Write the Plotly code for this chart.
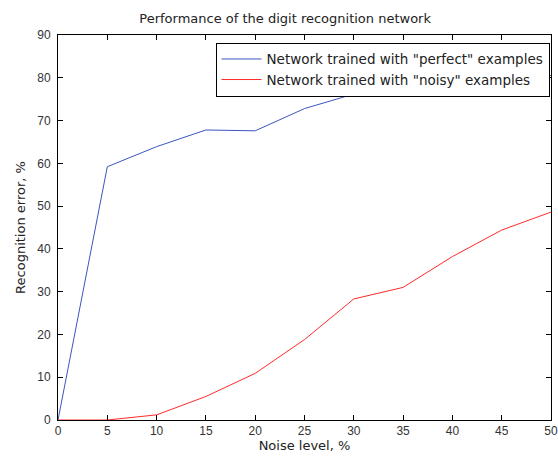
import plotly.graph_objects as go

noise = [0, 5, 10, 15, 20, 25, 30, 35, 40, 45, 50]
err_perfect = [0, 59.2, 63.9, 67.8, 67.6, 72.8, 76.2, 78.3, 76.8, 76.5, 80.6]
err_noisy = [0, 0, 1.2, 5.5, 10.9, 18.8, 28.3, 31.0, 38.2, 44.4, 48.6]

TXT = "DejaVu Sans, sans-serif"

fig = go.Figure()
fig.add_trace(go.Scatter(x=noise, y=err_perfect, mode="lines",
                         name='Network trained with "perfect" examples',
                         line=dict(color="#3a55c0", width=1)))
fig.add_trace(go.Scatter(x=noise, y=err_noisy, mode="lines",
                         name='Network trained with "noisy" examples',
                         line=dict(color="#ff2a2a", width=1)))

axis_common = dict(showline=True, linecolor="black", linewidth=1, mirror="ticks",
                   ticks="inside", ticklen=5, tickcolor="black", showgrid=False,
                   zeroline=False, automargin=False,
                   tickfont=dict(family="Liberation Sans, Arial, sans-serif", size=12, color="#333333"))

fig.update_layout(
    width=558, height=459,
    margin=dict(l=58, r=7, t=35, b=39),
    paper_bgcolor="white", plot_bgcolor="white",
    font=dict(family=TXT, size=13, color="#222222"),
    title=dict(text="Performance of the digit recognition network", x=0.511, xanchor="center",
               y=0.96, yanchor="middle", font=dict(family=TXT, size=13)),
    xaxis=dict(range=[0, 50], dtick=5,
               title=dict(text="Noise level, %", standoff=1, font=dict(family=TXT, size=13)),
               **axis_common),
    yaxis=dict(range=[0, 90], dtick=10, ticklabelstandoff=4,
               title=dict(text="Recognition error, %", standoff=8, font=dict(family=TXT, size=13)),
               **axis_common),
    legend=dict(x=0.997, y=0.98, xanchor="right", yanchor="top", bgcolor="white",
                bordercolor="black", borderwidth=1, font=dict(family=TXT, size=13.5),
                tracegroupgap=0, itemwidth=40),
    showlegend=True,
)

fig.write_html("out.html")
